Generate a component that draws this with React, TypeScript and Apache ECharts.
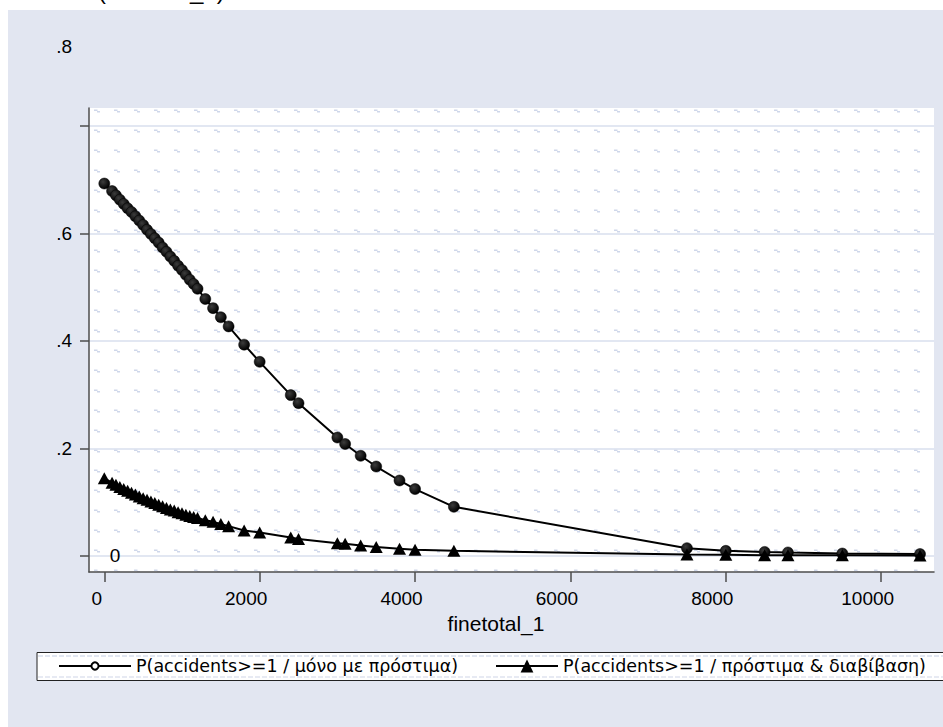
import React, { useEffect, useRef } from 'react';
import * as echarts from 'echarts';

const fineTotal = [
  0, 100, 150, 200, 250, 300, 350, 400, 450, 500, 550, 600, 650, 700, 750, 800,
  850, 900, 950, 1000, 1050, 1100, 1150, 1200, 1300, 1400, 1500, 1600, 1800, 2000,
  2400, 2500, 3000, 3100, 3300, 3500, 3800, 4000, 4500, 7500, 8000, 8500, 8800,
  9500, 10500,
];
const pFinesOnly = [
  0.693, 0.679, 0.671, 0.663, 0.655, 0.647, 0.64, 0.632, 0.624, 0.616, 0.607, 0.599,
  0.591, 0.583, 0.574, 0.566, 0.557, 0.549, 0.54, 0.532, 0.523, 0.514, 0.506, 0.497,
  0.478, 0.461, 0.444, 0.427, 0.393, 0.361, 0.299, 0.284, 0.22, 0.208, 0.186, 0.166,
  0.14, 0.124, 0.091, 0.014, 0.009, 0.007, 0.006, 0.004, 0.003,
];
const pFinesTraining = [
  0.144, 0.136, 0.132, 0.128, 0.124, 0.121, 0.117, 0.114, 0.11, 0.107, 0.104, 0.101,
  0.098, 0.095, 0.092, 0.089, 0.086, 0.084, 0.081, 0.079, 0.076, 0.074, 0.072, 0.07,
  0.066, 0.063, 0.059, 0.055, 0.047, 0.043, 0.034, 0.031, 0.023, 0.022, 0.019, 0.016,
  0.013, 0.011, 0.009, 0.002, 0.0015, 0.001, 0.001, 0.0008, 0.0005,
];
const xTicks = [0, 2000, 4000, 6000, 8000, 10000];
const yTicks = [0, 0.2, 0.4, 0.6, 0.8];
const yLabelValues = [0.2, 0.4, 0.6];
const seriesNames = [
  'P(accidents>=1 / μόνο με πρόστιμα)',
  'P(accidents>=1 / πρόστιμα & διαβίβαση)',
];
const xTitle = 'finetotal_1';
const topText = '(finetotal_1)';

function makePattern() {
  const c = document.createElement('canvas');
  c.width = 20;
  c.height = 20;
  const g = c.getContext('2d');
  if (g) {
    g.fillStyle = '#ffffff';
    g.fillRect(0, 0, 20, 20);
    g.fillStyle = '#cfd7ea';
    g.fillRect(14, 9.5, 3.5, 1.5);
    g.fillRect(17, 11, 3, 1.5);
  }
  return { image: c, repeat: 'repeat', imageWidth: 20, imageHeight: 20 };
}

const fmtY = (v: number) => Number(v).toFixed(1).replace(/^0/, '');

export default function App() {
  const ref = useRef<HTMLDivElement>(null);
  useEffect(() => {
    document.body.style.margin = '0';
    if (!ref.current) return;
    const chart = echarts.init(ref.current, null, { renderer: 'svg' });
    const axisColor = '#4d4d4d';
    const s1 = fineTotal.map((x, i) => [x, pFinesOnly[i]]);
    const s2 = fineTotal.map((x, i) => [x, pFinesTraining[i]]);
    const legendText = {
      fontFamily: 'DejaVu Sans',
      fontSize: 17.5,
      color: '#000',
      lineHeight: 20,
    };
    chart.setOption({
      animation: false,
      backgroundColor: '#ffffff',
      textStyle: { fontFamily: 'Liberation Sans' },
      grid: {
        left: 89,
        top: 108,
        right: 9,
        bottom: 155,
        show: true,
        backgroundColor: makePattern(),
        borderWidth: 0,
      },
      xAxis: {
        type: 'value',
        min: -197,
        max: 10680,
        name: xTitle,
        nameLocation: 'middle',
        nameGap: 41,
        nameTextStyle: {
          fontSize: 21,
          color: '#000',
          fontFamily: 'Liberation Sans',
          padding: [0, 31, 0, 0],
        },
        axisLine: { show: true, onZero: false, lineStyle: { color: axisColor, width: 1.5 } },
        axisTick: {
          show: true,
          length: 10,
          customValues: xTicks,
          lineStyle: { color: axisColor, width: 1.5 },
        },
        axisLabel: {
          customValues: xTicks,
          margin: 17,
          formatter: (v: number) => (v === 0 ? '{z|0}' : `{n|${v}}`),
          rich: {
            z: { fontSize: 19, color: '#000', fontFamily: 'Liberation Sans', padding: [0, 15, 0, 0] },
            n: { fontSize: 19, color: '#000', fontFamily: 'Liberation Sans', padding: [0, 27, 0, 0] },
          },
        },
        splitLine: { show: false },
      },
      yAxis: {
        type: 'value',
        min: -0.0304,
        max: 0.8337,
        axisLine: { show: true, onZero: false, lineStyle: { color: axisColor, width: 1.5 } },
        axisTick: {
          show: true,
          length: 9,
          customValues: yTicks,
          lineStyle: { color: axisColor, width: 1.5 },
        },
        axisLabel: {
          customValues: yLabelValues,
          formatter: fmtY,
          margin: 17,
          fontSize: 19,
          color: '#000',
          fontFamily: 'Liberation Sans',
          padding: [0, 0, 8, 0],
        },
        splitLine: { show: true, lineStyle: { color: '#d9dfee', width: 1.5 } },
      },
      legend: [
        {
          data: [
            {
              name: seriesNames[0],
              itemStyle: { color: '#ffffff', borderColor: '#000', borderWidth: 2 },
            },
          ],
          left: 58,
          top: 656,
          padding: 0,
          itemWidth: 72,
          itemHeight: 9,
          selectedMode: false,
          textStyle: legendText,
        },
        {
          data: [{ name: seriesNames[1] }],
          left: 495,
          top: 656,
          padding: 0,
          itemWidth: 62,
          itemHeight: 16,
          selectedMode: false,
          textStyle: legendText,
        },
      ],
      graphic: [
        {
          type: 'rect',
          z: -100,
          silent: true,
          shape: { x: 8, y: 10, width: 935, height: 717 },
          style: { fill: '#e2e6f1' },
        },
        {
          type: 'rect',
          z: 3,
          silent: true,
          shape: { x: 37, y: 652.5, width: 920, height: 28 },
          style: { fill: '#ffffff', stroke: '#222', lineWidth: 1 },
        },
        {
          type: 'line',
          z: 3,
          silent: true,
          shape: { x1: 38, y1: 656, x2: 943, y2: 656 },
          style: { stroke: '#d8deed', lineWidth: 1.5, lineDash: [5, 2] },
        },
        {
          type: 'line',
          z: 3,
          silent: true,
          shape: { x1: 38, y1: 677, x2: 943, y2: 677 },
          style: { stroke: '#dfe4f0', lineWidth: 1.5, lineDash: [5, 2] },
        },
        {
          type: 'text',
          z: 5,
          silent: true,
          x: 72,
          y: 46,
          style: {
            text: fmtY(yTicks[4]),
            fontSize: 19,
            fontFamily: 'Liberation Sans',
            fill: '#000',
            textAlign: 'right',
            textVerticalAlign: 'middle',
          },
        },
        {
          type: 'text',
          z: 5,
          silent: true,
          x: 115,
          y: 555,
          style: {
            text: String(yTicks[0]),
            fontSize: 19,
            fontFamily: 'Liberation Sans',
            fill: '#000',
            textAlign: 'center',
            textVerticalAlign: 'middle',
          },
        },
        {
          type: 'text',
          z: 5,
          silent: true,
          x: 98,
          y: -9.5,
          style: {
            text: topText,
            fontSize: 24,
            fontFamily: 'Liberation Sans',
            fill: '#000',
            textAlign: 'left',
            textVerticalAlign: 'middle',
          },
        },
      ],
      series: [
        {
          name: seriesNames[0],
          type: 'line',
          data: s1,
          symbol: 'circle',
          symbolSize: 11,
          itemStyle: {
            color: {
              type: 'radial',
              x: 0.38,
              y: 0.35,
              r: 0.65,
              colorStops: [
                { offset: 0, color: '#3c3c3c' },
                { offset: 1, color: '#000000' },
              ],
            },
            borderColor: '#000',
            borderWidth: 0.5,
          },
          lineStyle: { color: '#000', width: 2 },
          z: 3,
        },
        {
          name: seriesNames[1],
          type: 'line',
          data: s2,
          symbol: 'triangle',
          symbolSize: [13, 12],
          itemStyle: { color: '#000' },
          lineStyle: { color: '#000', width: 2 },
          z: 4,
        },
      ],
    });
    return () => chart.dispose();
  }, []);
  return <div ref={ref} style={{ width: 943, height: 727 }} />;
}
